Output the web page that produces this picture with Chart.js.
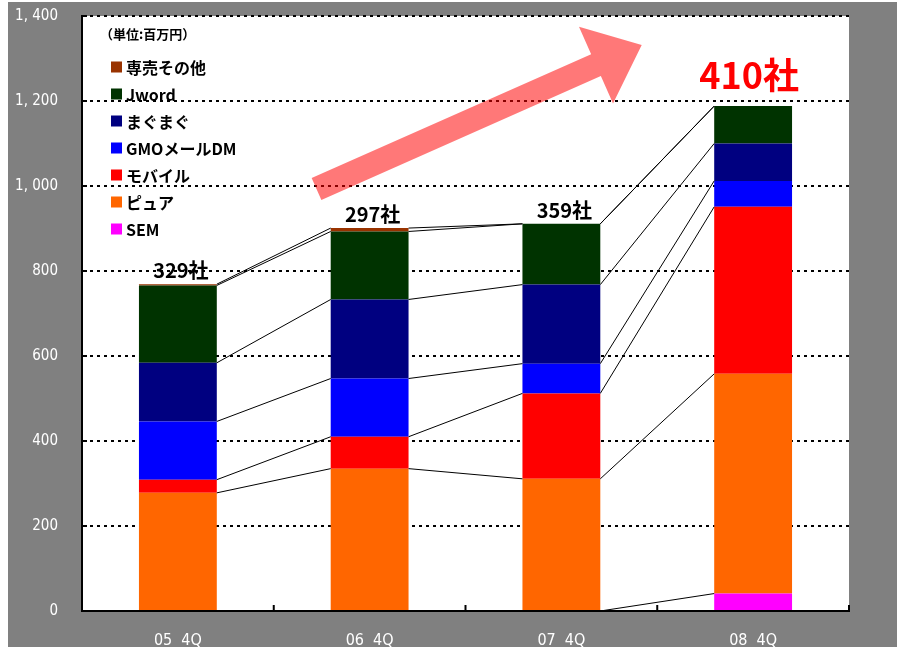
<!DOCTYPE html>
<html>
<head>
<meta charset="utf-8">
<script src="https://cdn.jsdelivr.net/npm/chart.js@4/dist/chart.umd.min.js"></script>
<style>
  html, body { margin: 0; padding: 0; background: #ffffff; }
  #wrap { position: absolute; left: 8px; top: 2px; width: 889px; height: 645px; background: #808080; }
  canvas { display: block; }
</style>
</head>
<body>
<div id="wrap"><canvas id="c" width="889" height="645" style="width:889px;height:645px"></canvas></div>
<script>
// ---- data ----
const categories = ['05  4Q', '06  4Q', '07  4Q', '08  4Q'];
const companyLabels = ['329社', '297社', '359社', '410社'];
const unitLabel = '（単位:百万円）';
const yTicks = [0, 200, 400, 600, 800, 1000, 1200, 1400];

// stacked bottom -> top
const sem      = [0, 0, 0, 41];
const pure     = [278, 335, 311, 517];
const mobile   = [31, 75, 201, 393];
const gmo      = [137, 137, 70, 61];
const magmag   = [138, 186, 186, 88];
const jword    = [182, 160, 143, 88];
const senbai   = [3, 8, 0, 0];

// growth arrow, in data coordinates (category index, value)
const arrowTail = [0.723, 993];
const arrowTip  = [2.419, 1332];

const seriesDefs = [
  { label: 'SEM', data: sem, color: '#FF00FF' },
  { label: 'ピュア', data: pure, color: '#FF6600' },
  { label: 'モバイル', data: mobile, color: '#FF0000' },
  { label: 'GMOメールDM', data: gmo, color: '#0000FF' },
  { label: 'まぐまぐ', data: magmag, color: '#000080' },
  { label: 'Jword', data: jword, color: '#003300' },
  { label: '専売その他', data: senbai, color: '#993300' }
];

const JP = '"Noto Sans CJK JP", "Noto Sans", sans-serif';
const NUM = '"DejaVu Sans Condensed", "DejaVu Sans", sans-serif';

const plotBg = {
  id: 'plotBg',
  beforeDraw(chart) {
    const { ctx, chartArea: a } = chart;
    ctx.save();
    ctx.fillStyle = '#ffffff';
    ctx.fillRect(a.left, a.top, a.right - a.left, a.bottom - a.top);
    ctx.restore();
  }
};

const overlay = {
  id: 'overlay',
  afterDatasetsDraw(chart) {
    const { ctx, chartArea: a, scales: { x, y } } = chart;
    ctx.save();
    // series lines
    ctx.strokeStyle = '#000';
    ctx.lineWidth = 1;
    chart.data.datasets.forEach((ds, d) => {
      const meta = chart.getDatasetMeta(d);
      for (let i = 0; i < meta.data.length - 1; i++) {
        const e1 = meta.data[i], e2 = meta.data[i + 1];
        ctx.beginPath();
        ctx.moveTo(e1.x + e1.width / 2, e1.y);
        ctx.lineTo(e2.x - e2.width / 2, e2.y);
        ctx.stroke();
      }
    });
    // inside ticks
    ctx.lineWidth = 2;
    yTicks.forEach(v => {
      const py = y.getPixelForValue(v);
      ctx.beginPath(); ctx.moveTo(a.left, py); ctx.lineTo(a.left + 5, py); ctx.stroke();
    });
    for (let i = 0; i < categories.length; i++) {
      const px = i < categories.length - 1 ? (x.getPixelForValue(i) + x.getPixelForValue(i + 1)) / 2 : a.right;
      ctx.beginPath(); ctx.moveTo(px, a.bottom); ctx.lineTo(px, a.bottom - 6); ctx.stroke();
    }
    // arrow
    const tx = x.getPixelForValue(arrowTail[0]), ty = y.getPixelForValue(arrowTail[1]);
    const hx = x.getPixelForValue(arrowTip[0]), hy = y.getPixelForValue(arrowTip[1]);
    const len = Math.hypot(hx - tx, hy - ty);
    const ux = (hx - tx) / len, uy = (hy - ty) / len;
    const nx = -uy, ny = ux;
    const sw = 12, hw = 42, hl = 50;
    const bx = hx - ux * hl, by = hy - uy * hl;
    ctx.fillStyle = 'rgba(255,0,0,0.53)';
    ctx.beginPath();
    ctx.moveTo(tx + nx * sw, ty + ny * sw);
    ctx.lineTo(bx + nx * sw, by + ny * sw);
    ctx.lineTo(bx + nx * hw, by + ny * hw);
    ctx.lineTo(hx, hy);
    ctx.lineTo(bx - nx * hw, by - ny * hw);
    ctx.lineTo(bx - nx * sw, by - ny * sw);
    ctx.lineTo(tx - nx * sw, ty - ny * sw);
    ctx.closePath();
    ctx.fill();
    // company labels
    ctx.textAlign = 'center';
    ctx.textBaseline = 'alphabetic';
    companyLabels.forEach((lab, i) => {
      let total = 0;
      chart.data.datasets.forEach(ds => total += ds.data[i]);
      const px = x.getPixelForValue(i);
      const py = y.getPixelForValue(total);
      const last = i === companyLabels.length - 1;
      ctx.fillStyle = last ? '#FF0000' : '#000000';
      ctx.font = last ? 'bold 36px ' + JP : 'bold 20px ' + JP;
      ctx.fillText(lab, px + (last ? -4 : 3), py - (last ? 17 : 6));
    });
    // legend
    ctx.textAlign = 'left';
    ctx.textBaseline = 'middle';
    ctx.fillStyle = '#000';
    ctx.font = 'bold 13px ' + JP;
    ctx.fillText(unitLabel, a.left + 18, a.top + 18);
    const items = chart.data.datasets.slice().reverse();
    ctx.font = 'bold 16px ' + JP;
    items.forEach((ds, k) => {
      const cy = a.top + 51 + k * 27;
      ctx.fillStyle = ds.backgroundColor;
      ctx.fillRect(a.left + 29, cy - 5.5, 11, 11);
      ctx.fillStyle = '#000';
      ctx.fillText(ds.label, a.left + 44, cy + 1);
    });
    ctx.restore();
  }
};

new Chart(document.getElementById('c'), {
  type: 'bar',
  data: {
    labels: categories,
    datasets: seriesDefs.map(s => ({
      label: s.label,
      data: s.data,
      backgroundColor: s.color,
      borderWidth: 0,
      categoryPercentage: 1,
      barPercentage: 0.406
    }))
  },
  options: {
    responsive: false,
    animation: false,
    layout: { padding: { top: 14, right: 48, left: 0, bottom: 0 } },
    plugins: { legend: { display: false }, tooltip: { enabled: false } },
    scales: {
      x: {
        stacked: true,
        grid: { display: false },
        border: { display: true, color: '#000', width: 2 },
        ticks: { color: '#fff', font: { family: NUM, size: 16 }, padding: 12, maxRotation: 0 },
        afterFit(s) { s.height = 36; s.paddingLeft = 0; s.paddingRight = 0; }
      },
      y: {
        stacked: true,
        min: 0, max: 1400,
        afterBuildTicks(s) { s.ticks = yTicks.map(v => ({ value: v })); },
        grid: {
          color: c => (c.tick && c.tick.value === 0) ? 'rgba(0,0,0,0)' : '#000',
          lineWidth: 2,
          drawTicks: false
        },
        border: { display: true, color: '#000', width: 2, dash: [3, 4] },
        ticks: {
          color: '#fff',
          font: { family: NUM, size: 15 },
          padding: 24,
          callback: v => v >= 1000 ? v.toLocaleString('en-US').replace(',', ', ') : String(v)
        },
        afterFit(s) { s.width = 74; s.paddingTop = 0; s.paddingBottom = 0; }
      }
    }
  },
  plugins: [plotBg, overlay]
});
</script>
</body>
</html>
